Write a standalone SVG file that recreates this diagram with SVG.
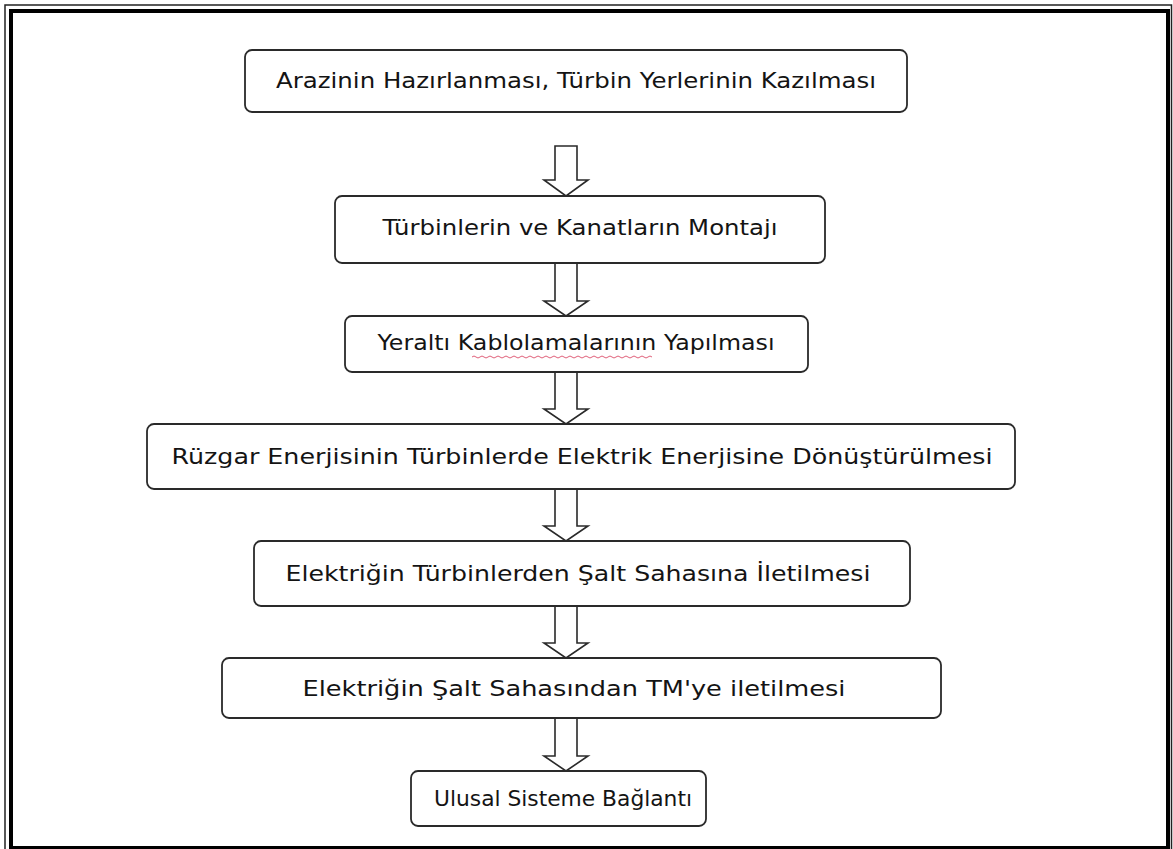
<svg xmlns="http://www.w3.org/2000/svg" width="1173" height="849" viewBox="0 0 1173 849">
<style>
.box{fill:#fff;stroke:#2a2a2a;stroke-width:1.8}
.lbl{font-family:"Comic Sans MS","DejaVu Sans",sans-serif;font-size:21px;fill:#141414;text-anchor:middle;dominant-baseline:central}
.arr{fill:#fff;stroke:#2a2a2a;stroke-width:1.6;stroke-linejoin:miter}
</style>
<rect width="1173" height="849" fill="#fff"/>
<g id="border" fill="none">
<rect x="5" y="5" width="1166.5" height="870" stroke="#222" stroke-width="1.5"/>
<rect x="11" y="11" width="1157" height="837" stroke="#000" stroke-width="4"/>
</g>
<g id="connectors">
<path class="arr" d="M555,146 L577,146 L577,180 L588,180 L566,196 L544,180 L555,180 Z"/>
<path class="arr" d="M555,263 L577,263 L577,301 L588,301 L566,316 L544,301 L555,301 Z"/>
<path class="arr" d="M555,372 L577,372 L577,409 L588,409 L566,424 L544,409 L555,409 Z"/>
<path class="arr" d="M555,489 L577,489 L577,526 L588,526 L566,541 L544,526 L555,526 Z"/>
<path class="arr" d="M555,606 L577,606 L577,643 L588,643 L566,658 L544,643 L555,643 Z"/>
<path class="arr" d="M555,718 L577,718 L577,756 L588,756 L566,771 L544,756 L555,756 Z"/>
</g>
<g id="n1">
<rect class="box" x="245" y="50" width="662" height="62" rx="7"/>
<text class="lbl" x="576" y="81" textLength="600" lengthAdjust="spacingAndGlyphs">Arazinin Hazırlanması, Türbin Yerlerinin Kazılması</text>
</g>
<g id="n2">
<rect class="box" x="335" y="196" width="490" height="67" rx="7"/>
<text class="lbl" x="580" y="228" textLength="395" lengthAdjust="spacingAndGlyphs">Türbinlerin ve Kanatların Montajı</text>
</g>
<g id="n3">
<rect class="box" x="345" y="316" width="463" height="56" rx="7"/>
<text class="lbl" x="576" y="343" textLength="397" lengthAdjust="spacingAndGlyphs">Yeraltı Kablolamalarının Yapılması</text>
<path d="M472,357 q2,-2 4,0 t4,0 t4,0 t4,0 t4,0 t4,0 t4,0 t4,0 t4,0 t4,0 t4,0 t4,0 t4,0 t4,0 t4,0 t4,0 t4,0 t4,0 t4,0 t4,0 t4,0 t4,0 t4,0 t4,0 t4,0 t4,0 t4,0 t4,0 t4,0 t4,0 t4,0 t4,0 t4,0 t4,0 t4,0 t4,0 t4,0 t4,0 t4,0 t4,0 t4,0 t4,0 t4,0 t4,0 t4,0" fill="none" stroke="#e0607a" stroke-width="1"/>
</g>
<g id="n4">
<rect class="box" x="147" y="424" width="868" height="65" rx="7"/>
<text class="lbl" x="582" y="457" textLength="821" lengthAdjust="spacingAndGlyphs">Rüzgar Enerjisinin Türbinlerde Elektrik Enerjisine Dönüştürülmesi</text>
</g>
<g id="n5">
<rect class="box" x="254" y="541" width="656" height="65" rx="7"/>
<text class="lbl" x="578" y="574" textLength="585" lengthAdjust="spacingAndGlyphs">Elektriğin Türbinlerden Şalt Sahasına İletilmesi</text>
</g>
<g id="n6">
<rect class="box" x="222" y="658" width="719" height="60" rx="7"/>
<text class="lbl" x="574" y="689" textLength="543" lengthAdjust="spacingAndGlyphs">Elektriğin Şalt Sahasından TM'ye iletilmesi</text>
</g>
<g id="n7">
<rect class="box" x="411" y="771" width="295" height="55" rx="7"/>
<text class="lbl" x="563" y="799" textLength="258" lengthAdjust="spacingAndGlyphs">Ulusal Sisteme Bağlantı</text>
</g>
</svg>
